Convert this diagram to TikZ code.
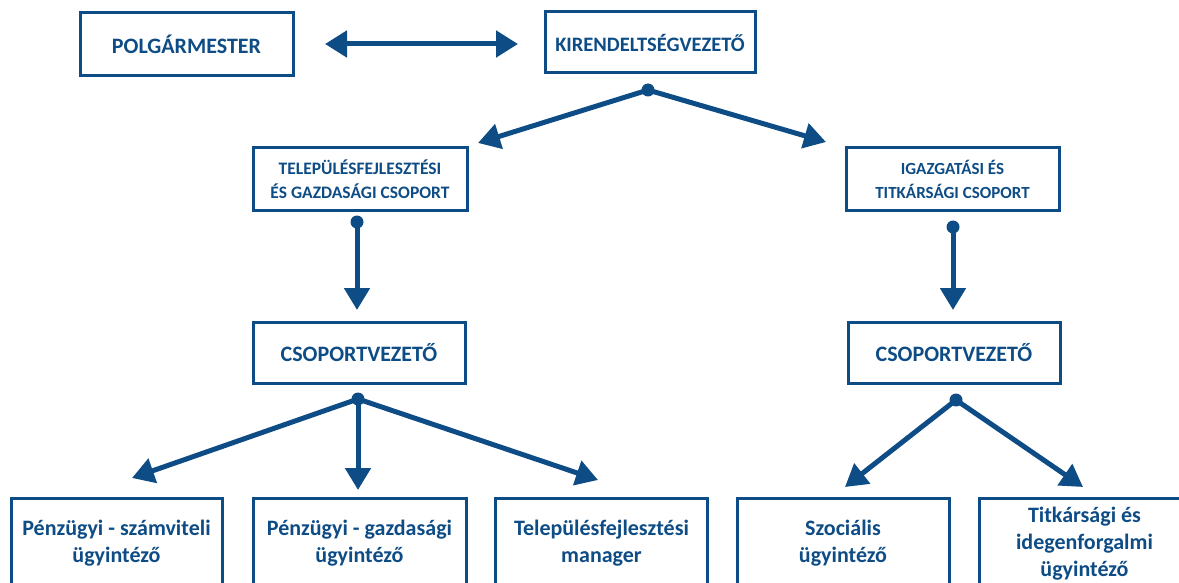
\documentclass[tikz,border=0pt]{standalone}
\usepackage{fontspec}
\setmainfont{Carlito}
\usetikzlibrary{arrows.meta}
\definecolor{navy}{RGB}{14,76,133}
\tikzset{
  box/.style={draw=navy, line width=3pt, text=navy, font=\bfseries, align=center, inner sep=0pt},
  bighead/.style={box, font=\fontsize{22}{26}\selectfont\bfseries},
  midhead/.style={box, font=\fontsize{20.5}{24}\selectfont\bfseries},
  grouphead/.style={box, font=\fontsize{17.5}{24}\selectfont\bfseries},
  leaf/.style={box, font=\fontsize{22}{27}\selectfont\bfseries},
  conn/.style={draw=navy, line width=5pt, -{Triangle[length=22pt,width=25pt]}},
  dconn/.style={draw=navy, line width=5pt, {Triangle[length=22pt,width=26pt]}-{Triangle[length=22pt,width=26pt]}},
  dot/.style={circle, fill=navy, inner sep=0pt, minimum size=13pt}
}
\begin{document}
\begin{tikzpicture}[x=1pt,y=-1pt]
\useasboundingbox (0,0) rectangle (1179,583);
\clip (0,0) rectangle (1179,583);
\node[bighead, minimum width=213pt, minimum height=63pt] (pol) at (186.5,44.5) {POLGÁRMESTER};
\node[midhead, minimum width=210pt, minimum height=61pt] (kir) at (650,42.5) {KIRENDELTSÉGVEZETŐ};
\node[grouphead, minimum width=214pt, minimum height=63pt] (tel) at (360,179.5) {TELEPÜLÉSFEJLESZTÉSI\\ÉS GAZDASÁGI CSOPORT};
\node[grouphead, font=\fontsize{17}{24}\selectfont\bfseries, minimum width=213pt, minimum height=63pt] (iga) at (952.5,179.5) {IGAZGATÁSI ÉS\\TITKÁRSÁGI CSOPORT};
\node[bighead, minimum width=212pt, minimum height=61pt] (cs1) at (359,352.5) {CSOPORTVEZETŐ};
\node[bighead, minimum width=212pt, minimum height=61pt] (cs2) at (954,352.5) {CSOPORTVEZETŐ};
\node[leaf, minimum width=211pt, minimum height=91pt] (b1) at (116.5,543.5) {Pénzügyi - számviteli\\ügyintéző};
\node[leaf, minimum width=213pt, minimum height=91pt] (b2) at (359.5,543.5) {Pénzügyi - gazdasági\\ügyintéző};
\node[leaf, minimum width=212pt, minimum height=91pt] (b3) at (601.5,543.5) {Településfejlesztési\\manager};
\node[leaf, minimum width=212pt, minimum height=91pt] (b4) at (843,543.5) {Szociális\\ügyintéző};
\node[leaf, minimum width=211pt, minimum height=91pt] (b5) at (1084.5,543.5) {Titkársági és\\idegenforgalmi\\ügyintéző};
% connector end points
\coordinate (pa) at (325,44);
\coordinate (pb) at (518,44);
\node[dot] (d1) at (648,90) {};
\coordinate (t1) at (478,143);
\coordinate (t2) at (826,142);
\node[dot] (d2) at (357,222) {};
\coordinate (t3) at (357,310);
\node[dot] (d3) at (953,227) {};
\coordinate (t4) at (953,310);
\node[dot] (d4) at (358,399) {};
\coordinate (t5) at (132,478);
\coordinate (t6) at (358,490);
\coordinate (t7) at (598,480);
\node[dot] (d5) at (956,400) {};
\coordinate (t8) at (845,487);
\coordinate (t9) at (1083,487);
\draw[dconn] (pa) -- (pb);
\draw[conn] (d1.center) -- (t1);
\draw[conn] (d1.center) -- (t2);
\draw[conn] (d2.center) -- (t3);
\draw[conn] (d3.center) -- (t4);
\draw[conn] (d4.center) -- (t5);
\draw[conn] (d4.center) -- (t6);
\draw[conn] (d4.center) -- (t7);
\draw[conn] (d5.center) -- (t8);
\draw[conn] (d5.center) -- (t9);
\end{tikzpicture}
\end{document}
